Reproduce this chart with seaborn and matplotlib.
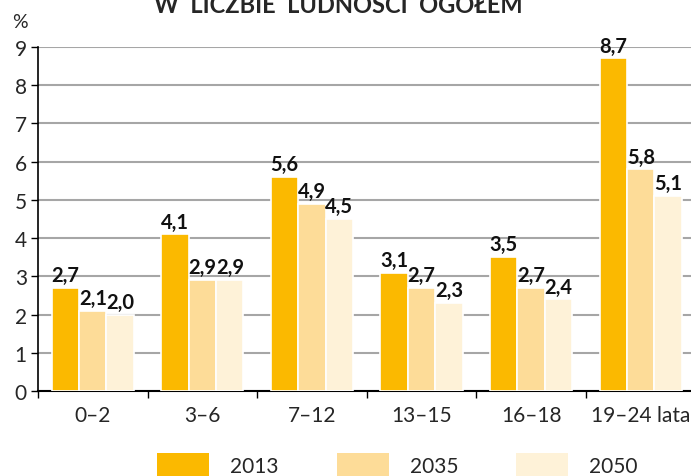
import pandas as pd
import matplotlib.pyplot as plt
import seaborn as sns
from matplotlib.patches import Patch

# data
groups = ['0–2', '3–6', '7–12', '13–15', '16–18', '19–24 lata']
years = ['2013', '2035', '2050']
v2013 = [2.7, 4.1, 5.6, 3.1, 3.5, 8.7]
v2035 = [2.1, 2.9, 4.9, 2.7, 2.7, 5.8]
v2050 = [2.0, 2.9, 4.5, 2.3, 2.4, 5.1]
colors = ['#FBB900', '#FDDC98', '#FEF2D8']

df = pd.DataFrame({
    'grupa': groups * 3,
    'rok': [y for y in years for _ in groups],
    'wartosc': v2013 + v2035 + v2050,
})

sns.set_style('white')
plt.rcParams['font.family'] = ['Lato', 'DejaVu Sans']

fig = plt.figure(figsize=(6.91, 4.77), dpi=100)
ax = fig.add_axes([38 / 691, 1 - 392 / 477, 657.6 / 691, (392 - 48) / 477])

sns.barplot(data=df, x='grupa', y='wartosc', hue='rok', palette=colors,
            saturation=1, width=0.75, edgecolor='white', linewidth=1.2,
            ax=ax, legend=False, zorder=3)

for cont, vals in zip(ax.containers, [v2013, v2035, v2050]):
    ax.bar_label(cont, labels=[f'{v:.1f}'.replace('.', ',') for v in vals],
                 padding=2, fontsize=14.5, fontweight='bold', color='#111111')

ax.set_ylim(0, 9)
ax.set_yticks(range(10))
ax.set_xlim(-0.5, 5.5)
ax.set_xticks(range(6))
ax.set_xticks([i - 0.5 for i in range(7)], minor=True)
ax.tick_params(axis='x', which='major', length=0, pad=10, labelsize=15)
ax.tick_params(axis='x', which='minor', length=5, width=1, direction='out', color='black')
ax.tick_params(axis='y', length=5, width=1, direction='out', color='black', labelsize=15, pad=3)
ax.xaxis.set_ticks_position('bottom')
ax.yaxis.set_ticks_position('left')
ax.set_xlabel('')
ax.set_ylabel('')
ax.yaxis.grid(True, color='#a6a6a6', linewidth=1.5, zorder=0)
ax.set_axisbelow(True)
for s in ['top', 'right']:
    ax.spines[s].set_visible(False)
ax.spines['left'].set_color('black')
ax.spines['bottom'].set_color('black')
ax.spines['bottom'].set_linewidth(1.5)
ax.spines['left'].set_linewidth(1.2)

fig.text(20 / 691, 1 - 22 / 477, '%', fontsize=14, ha='center', va='center')
fig.text(0.49, 0.99, 'W  LICZBIE  LUDNOŚCI  OGÓŁEM', fontsize=17,
         fontweight='bold', ha='center', va='center')

handles = [Patch(facecolor=c, edgecolor='none') for c in colors]
fig.legend(handles, years, loc='center', bbox_to_anchor=(0.575, 0.022),
           ncol=3, frameon=False, fontsize=15, handlelength=2.5,
           handleheight=1.45, handletextpad=1.0, columnspacing=2.8)

fig.savefig('out.png', dpi=100)
